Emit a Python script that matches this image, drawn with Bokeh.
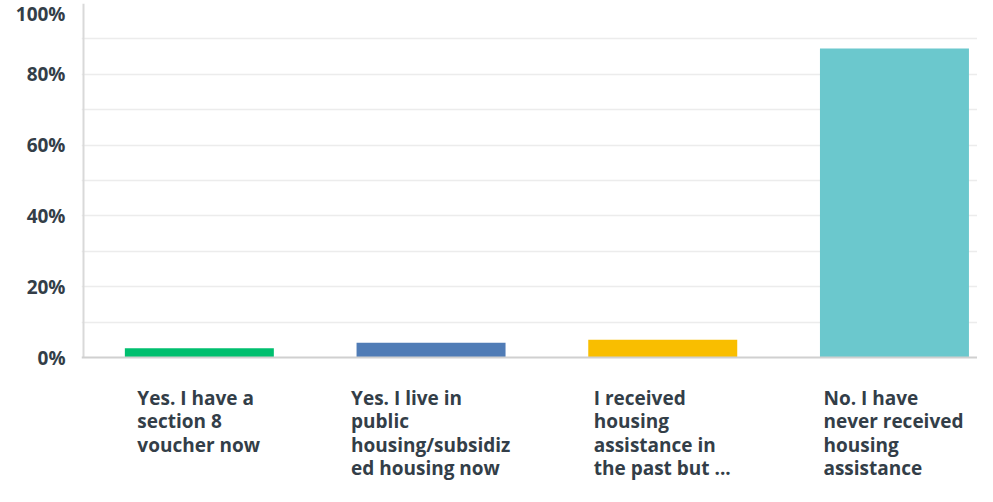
from bokeh.plotting import figure
from bokeh.models import Range1d, FixedTicker, ColumnDataSource, Span
from bokeh.core.properties import value
from bokeh.embed import file_html
from bokeh.resources import INLINE

# ---- data ----
categories = [
    "Yes. I have a\nsection 8\nvoucher now",
    "Yes. I live in\npublic\nhousing/subsidiz\ned housing now",
    "I received\nhousing\nassistance in\nthe past but ...",
    "No. I have\nnever received\nhousing\nassistance",
]
values = [2.6, 4.2, 5.0, 87.3]
bar_colors = ["#00bf6f", "#507cb6", "#f9be00", "#6bc8cd"]
y_ticks = [0, 20, 40, 60, 80, 100]
y_tick_labels = ["0%", "20%", "40%", "60%", "80%", "100%"]
grid_ticks = [10, 20, 30, 40, 50, 60, 70, 80, 90]

# ---- layout / style (pixels) ----
W, H = 977, 486
FONT = "Open Sans"
TEXT = "#333e48"
FONT_SIZE = "19px"
FRAME_LEFT = 81          # frame left edge
AXIS_X_PX = 2            # y-axis line sits this many px right of frame edge
FRAME_TOP_PX = 3         # y pixel of 100%
ZERO_PX = 357            # y pixel of 0%
PX_PER_CAT = 231.7
label_x_offsets_px = [-62, -80, -69, -71]
FIRST_BASELINE_PX = 40   # below the 0% line
LINE_STEP_PX = 23.5

px_per_pct = (ZERO_PX - FRAME_TOP_PX) / 100.0
x_start = -AXIS_X_PX / PX_PER_CAT
x_end = x_start + (W - FRAME_LEFT) / PX_PER_CAT
y_start = -(H - ZERO_PX) / px_per_pct

xs = [i + 0.5 for i in range(len(categories))]

p = figure(width=W, height=H, output_backend="svg", toolbar_location=None,
           x_range=Range1d(x_start, x_end), y_range=Range1d(y_start, 100))
p.min_border_left = FRAME_LEFT
p.min_border_right = 0
p.min_border_top = FRAME_TOP_PX
p.min_border_bottom = 0
p.outline_line_color = None
p.background_fill_color = "white"
p.border_fill_color = "white"

# grid
p.xgrid.visible = False
p.ygrid.ticker = FixedTicker(ticks=grid_ticks)
p.ygrid.grid_line_color = "#ececec"
p.ygrid.grid_line_width = 1.5

src = ColumnDataSource(dict(x=xs, top=values, color=bar_colors))
p.vbar(x="x", top="top", width=0.643, bottom=0, fill_color="color",
       line_color=None, source=src)

# axis lines
p.add_layout(Span(location=0, dimension="width", line_color="#d0d0d0",
                  line_width=2))
p.segment(x0=[0], y0=[0], x1=[0], y1=[100], line_color="#d9d9d9",
          line_width=2)

# y axis (labels only)
p.xaxis.visible = False
yax = p.yaxis[0]
yax.ticker = FixedTicker(ticks=y_ticks)
yax.major_label_overrides = {t: l for t, l in zip(y_ticks, y_tick_labels)}
yax.major_tick_line_color = None
yax.minor_tick_line_color = None
yax.axis_line_color = None
yax.major_label_text_font = FONT
yax.major_label_text_font_style = "bold"
yax.major_label_text_font_size = FONT_SIZE
yax.major_label_text_color = TEXT
yax.major_label_text_baseline = "top"
yax.major_label_standoff = 10

# category labels: one row per wrapped line, left-aligned block under each bar
lx, ly, ltext = [], [], []
for i, cat in enumerate(categories):
    for j, line in enumerate(cat.split("\n")):
        lx.append(xs[i] + label_x_offsets_px[i] / PX_PER_CAT)
        ly.append(-(FIRST_BASELINE_PX + j * LINE_STEP_PX) / px_per_pct)
        ltext.append(line)
p.text(x=lx, y=ly, text=ltext, text_align="left",
       text_baseline="alphabetic", text_font=value(FONT),
       text_font_style="bold", text_font_size=FONT_SIZE, text_color=TEXT)

open("out.html", "w").write(file_html(p, INLINE))
